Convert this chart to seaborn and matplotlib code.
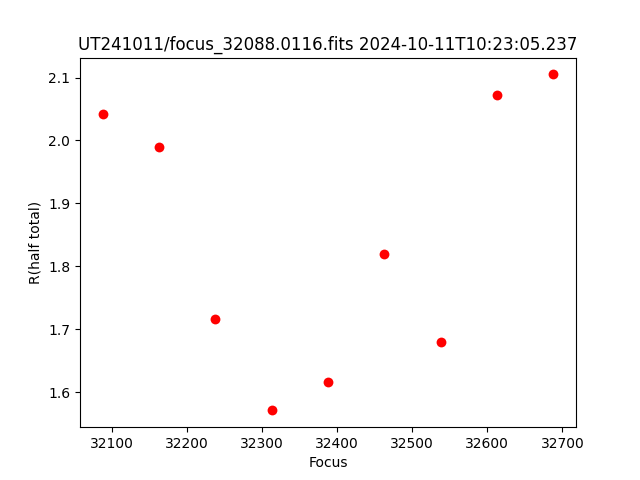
import matplotlib
matplotlib.use("Agg")
import matplotlib.pyplot as plt
import seaborn as sns
import pandas as pd

focus = [32088, 32163, 32238, 32313, 32388, 32463, 32538, 32613, 32688]
r_half = [2.042, 1.990, 1.716, 1.571, 1.616, 1.819, 1.679, 2.073, 2.105]
title = "UT241011/focus_32088.0116.fits 2024-10-11T10:23:05.237"

df = pd.DataFrame({"Focus": focus, "R": r_half})

plt.rcParams.update(matplotlib.rcParamsDefault)
fig, ax = plt.subplots(figsize=(6.4, 4.8), dpi=100)
sns.scatterplot(data=df, x="Focus", y="R", color="red", marker="o", s=50,
                linewidth=0, ax=ax)
ax.set_xlabel("Focus")
ax.set_ylabel("R(half total)")
ax.set_title(title)
fig.savefig("out.png", dpi=100)
